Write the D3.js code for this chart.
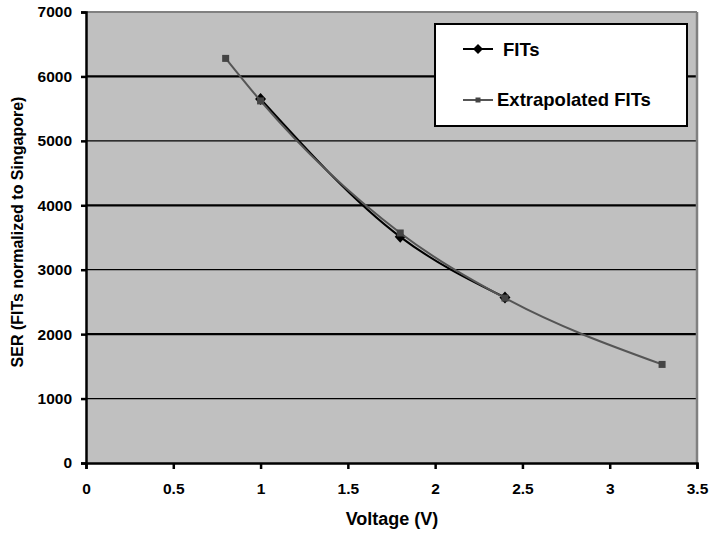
<!DOCTYPE html>
<html>
<head>
<meta charset="utf-8">
<script src="https://cdn.jsdelivr.net/npm/d3@7"></script>
<style>
  body { margin: 0; background: #fff; }
  text { font-family: "Liberation Sans", Arial, sans-serif; font-weight: bold; }
</style>
</head>
<body>
<script>
// series
var fitsVoltage = [1.0, 1.8, 2.4];
var fitsSer = [5650, 3510, 2570];
var extVoltage = [0.8, 1.0, 1.8, 2.4, 3.3];
var extSer = [6280, 5620, 3570, 2560, 1530];
var xTicks = [0, 0.5, 1, 1.5, 2, 2.5, 3, 3.5];
var yTicks = [0, 1000, 2000, 3000, 4000, 5000, 6000, 7000];

var width = 709, height = 533;
var plotLeft = 86, plotRight = 697, plotTop = 12, plotBottom = 463;

var svg = d3.select("body").append("svg")
    .attr("width", width)
    .attr("height", height);

var x = d3.scaleLinear().domain([0, 3.5]).range([plotLeft, plotRight]);
var y = d3.scaleLinear().domain([0, 7000]).range([plotBottom, plotTop]);

// plot area
svg.append("rect")
    .attr("x", plotLeft).attr("y", plotTop)
    .attr("width", plotRight - plotLeft).attr("height", plotBottom - plotTop)
    .attr("fill", "#c0c0c0");

// gridlines, alternating heavy / light
svg.append("g").selectAll("line")
    .data(yTicks.filter(function(d) { return d > 0 && d < 7000; }))
    .enter().append("line")
    .attr("x1", plotLeft).attr("x2", plotRight)
    .attr("y1", function(d) { return y(d); })
    .attr("y2", function(d) { return y(d); })
    .attr("stroke", "#000")
    .attr("stroke-width", function(d) { return (d / 1000) % 2 === 0 ? 2.2 : 1.2; });

// top and right border
svg.append("line").attr("x1", plotLeft).attr("x2", plotRight).attr("y1", plotTop).attr("y2", plotTop)
    .attr("stroke", "#808080").attr("stroke-width", 2);
svg.append("line").attr("x1", plotRight).attr("x2", plotRight).attr("y1", plotTop).attr("y2", plotBottom)
    .attr("stroke", "#808080").attr("stroke-width", 2.5);

// axes
var yAxis = svg.append("g")
    .attr("transform", "translate(" + plotLeft + ",0)")
    .call(d3.axisLeft(y).tickValues(yTicks).tickSize(5).tickPadding(9).tickFormat(d3.format("d")));
var xAxis = svg.append("g")
    .attr("transform", "translate(0," + plotBottom + ")")
    .call(d3.axisBottom(x).tickValues(xTicks).tickSize(6).tickPadding(14).tickFormat(function(d) { return String(d); }));

[yAxis, xAxis].forEach(function(g) {
    g.select(".domain").attr("stroke", "#000").attr("stroke-width", 2.5);
    g.selectAll(".tick line").attr("stroke", "#000").attr("stroke-width", 2.5);
    g.selectAll(".tick text")
        .style("font-family", '"Liberation Sans", Arial, sans-serif')
        .style("font-weight", "bold")
        .style("font-size", "15.5px")
        .attr("fill", "#000");
});

// axis titles
svg.append("text")
    .attr("x", 392).attr("y", 525)
    .attr("text-anchor", "middle")
    .style("font-size", "18px")
    .text("Voltage (V)");
svg.append("text")
    .attr("transform", "translate(23," + 232 + ") rotate(-90)")
    .attr("text-anchor", "middle")
    .style("font-size", "16px")
    .text("SER (FITs normalized to Singapore)");

var line = d3.line()
    .x(function(d) { return x(d[0]); })
    .y(function(d) { return y(d[1]); })
    .curve(d3.curveMonotoneX);

var fits = d3.zip(fitsVoltage, fitsSer);
var ext = d3.zip(extVoltage, extSer);

function diamond(w, h) {
    return "M0," + (-h) + "L" + w + ",0L0," + h + "L" + (-w) + ",0Z";
}

svg.append("path").datum(fits)
    .attr("d", line).attr("fill", "none")
    .attr("stroke", "#000").attr("stroke-width", 2);

svg.append("g").selectAll("path")
    .data(fits).enter().append("path")
    .attr("d", diamond(5.5, 6))
    .attr("transform", function(d) { return "translate(" + x(d[0]) + "," + y(d[1]) + ")"; })
    .attr("fill", "#000");

svg.append("path").datum(ext)
    .attr("d", line).attr("fill", "none")
    .attr("stroke", "#555").attr("stroke-width", 2);

svg.append("g").selectAll("rect")
    .data(ext).enter().append("rect")
    .attr("x", function(d) { return x(d[0]) - 3.5; })
    .attr("y", function(d) { return y(d[1]) - 3.5; })
    .attr("width", 7).attr("height", 7)
    .attr("fill", "#444");

// legend
var legend = svg.append("g");
legend.append("rect")
    .attr("x", 435).attr("y", 24)
    .attr("width", 252).attr("height", 102)
    .attr("fill", "#fff").attr("stroke", "#000").attr("stroke-width", 2);

legend.append("line").attr("x1", 463).attr("x2", 493).attr("y1", 49).attr("y2", 49)
    .attr("stroke", "#000").attr("stroke-width", 2);
legend.append("path")
    .attr("d", diamond(5, 5))
    .attr("transform", "translate(478,49)").attr("fill", "#000");
legend.append("text").attr("x", 503).attr("y", 56)
    .style("font-size", "18.5px").text("FITs");

legend.append("line").attr("x1", 463).attr("x2", 493).attr("y1", 100).attr("y2", 100)
    .attr("stroke", "#555").attr("stroke-width", 2);
legend.append("rect").attr("x", 475.5).attr("y", 97.5).attr("width", 5).attr("height", 5)
    .attr("fill", "#444");
legend.append("text").attr("x", 497).attr("y", 106)
    .style("font-size", "18.5px").text("Extrapolated FITs");
</script>
</body>
</html>
